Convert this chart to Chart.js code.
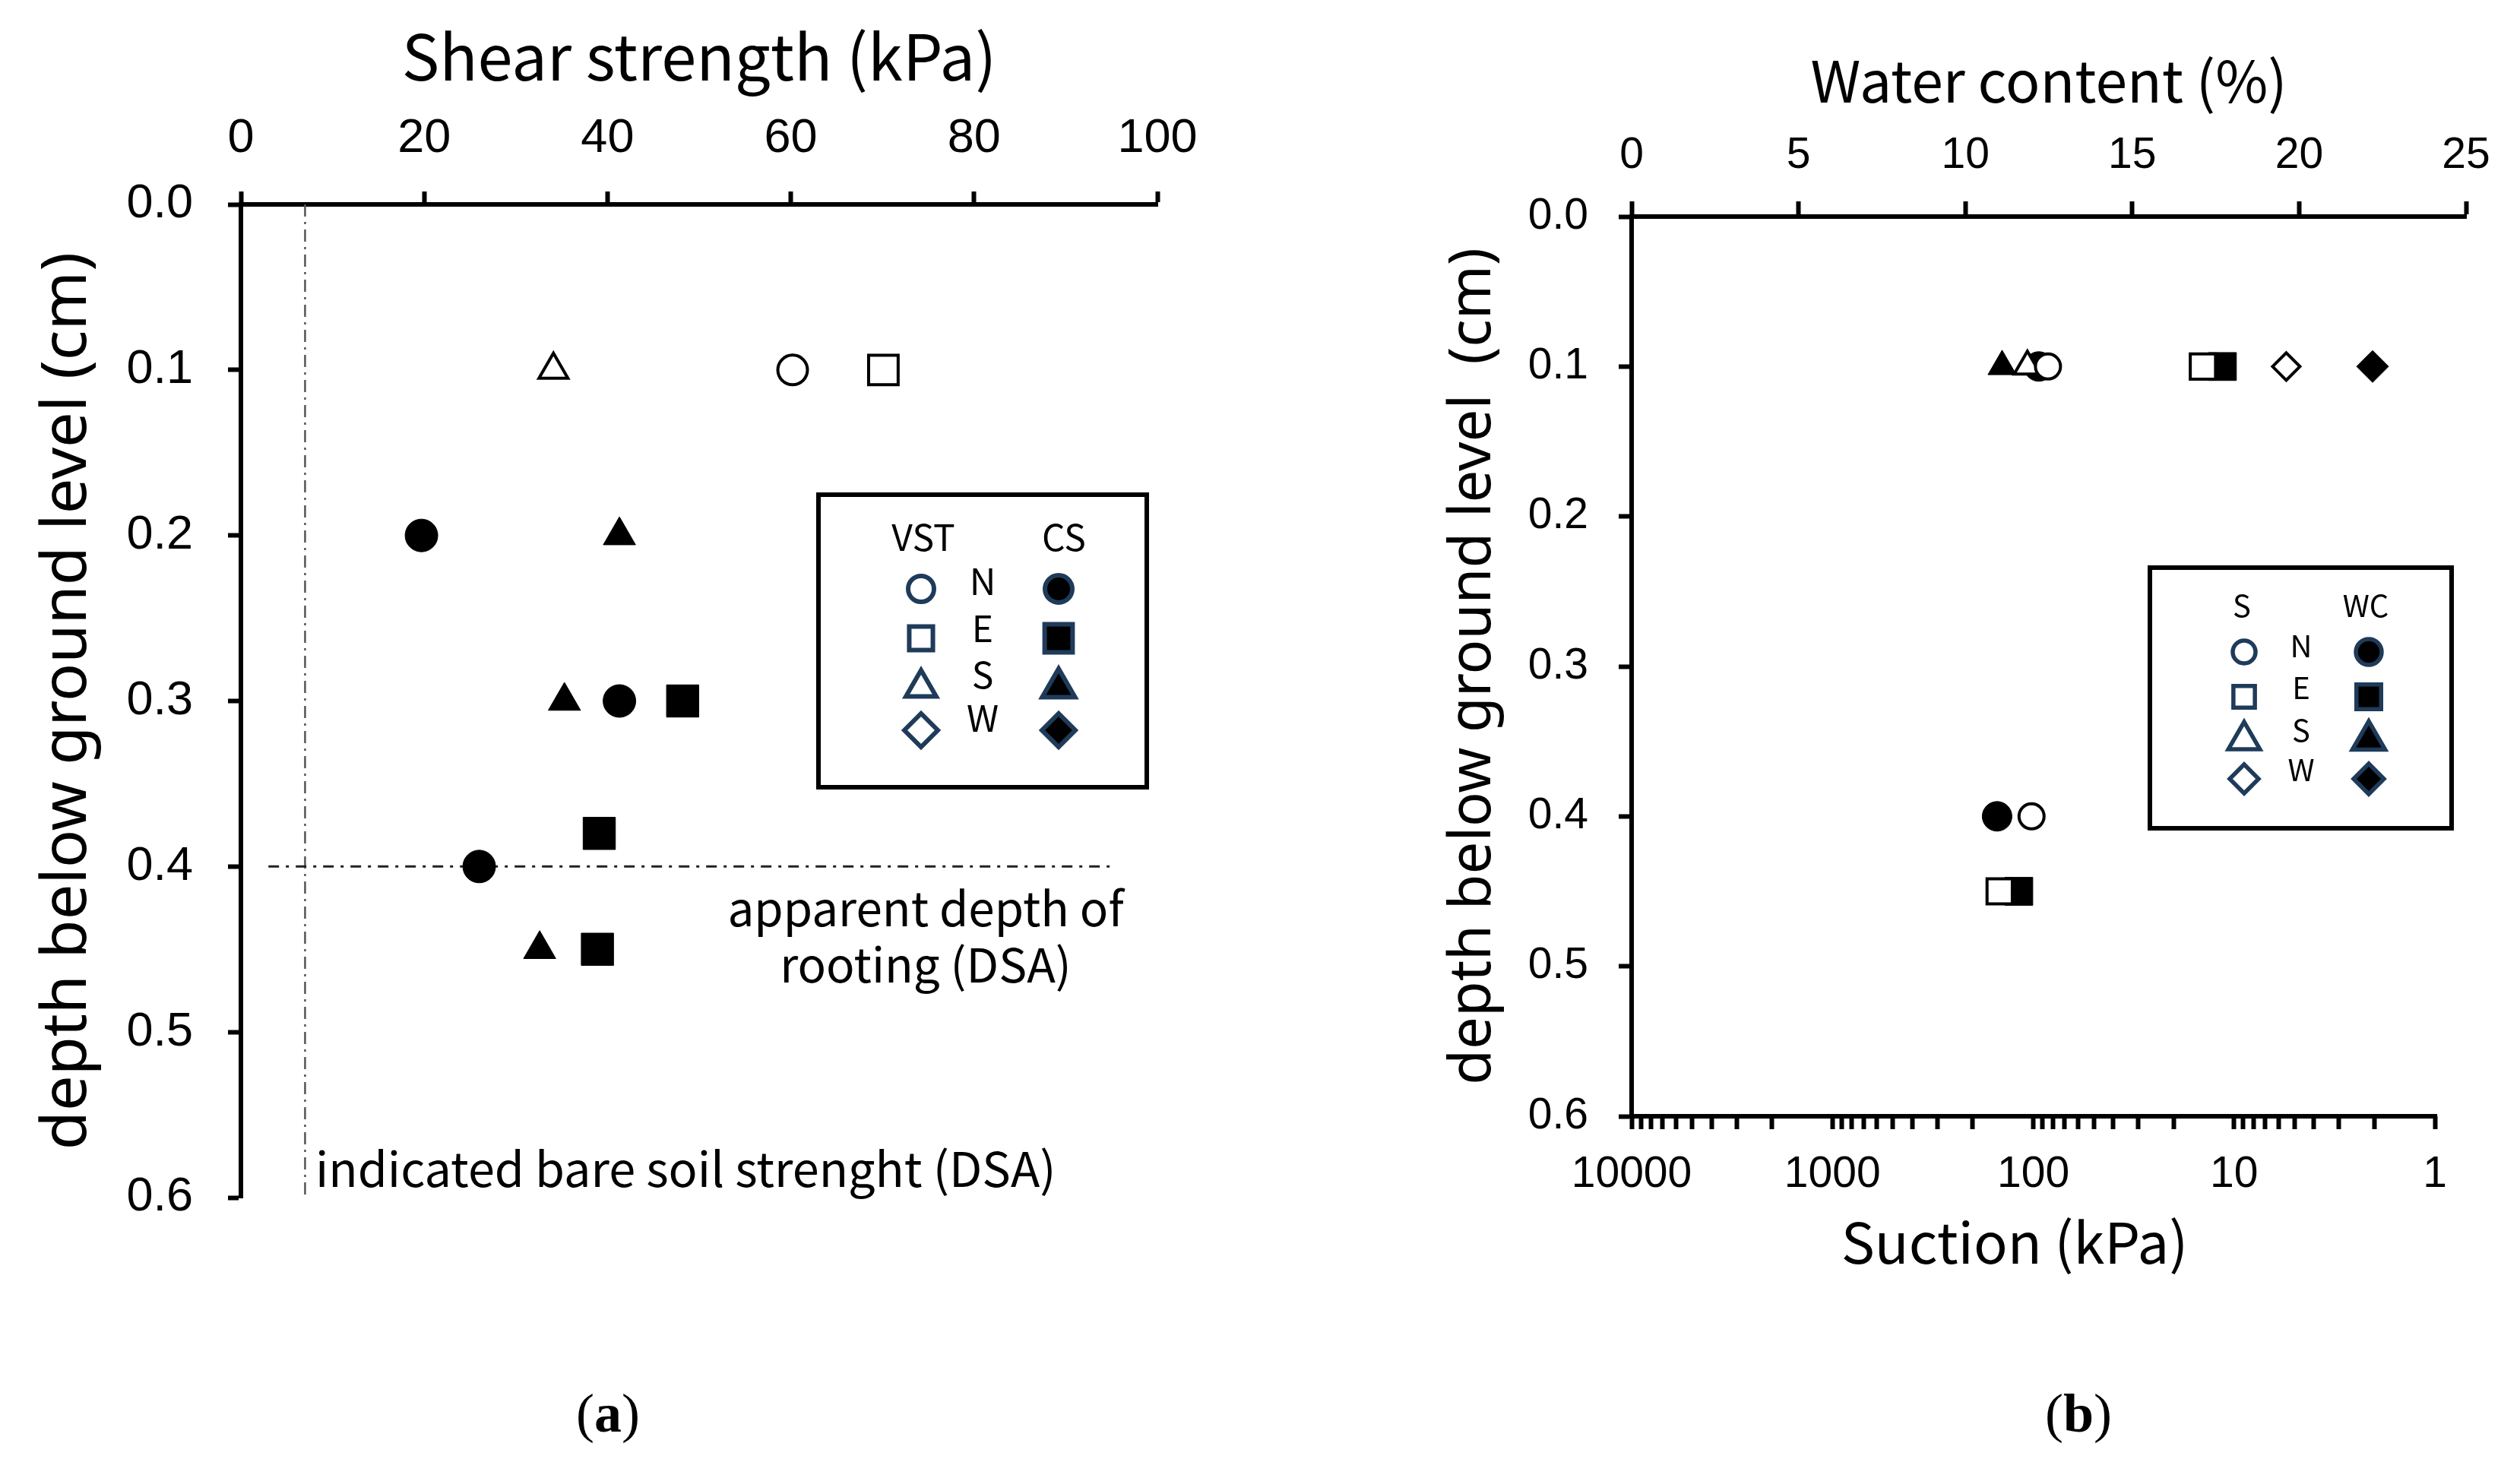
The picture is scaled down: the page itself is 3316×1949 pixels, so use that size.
<!DOCTYPE html>
<html>
<head>
<meta charset="utf-8">
<script src="https://cdn.jsdelivr.net/npm/chart.js@4.4.1/dist/chart.umd.min.js"></script>
<style>
  html, body { margin: 0; padding: 0; background: #fff; }
  #page { position: relative; width: 3316px; height: 1949px; background: #fff; }
  .panel { position: absolute; top: 0; width: 1658px; height: 1949px; }
</style>
</head>
<body>
<div id="page">
  <div class="panel" style="left:0"><canvas id="shear" width="1658" height="1949"></canvas></div>
  <div class="panel" style="left:1658px"><canvas id="water" width="1658" height="1949"></canvas></div>
</div>
<script>
// compass directions used as series names in both panels
const directions = ['N', 'E', 'S', 'W'];

// (a) shear strength [kPa, depth]
const vstN = [[60.2, 0.1]];
const vstE = [[70.1, 0.1]];
const vstS = [[34.1, 0.1]];
const vstW = [];
const csN = [[19.7, 0.2], [41.3, 0.3], [26.0, 0.4]];
const csE = [[48.2, 0.3], [39.1, 0.38], [38.9, 0.45]];
const csS = [[41.3, 0.2], [35.3, 0.3], [32.6, 0.45]];
const csW = [];
const bareSoilStrength = 7;          // kPa, vertical dash-dot line
const rootingDepth = 0.4;            // horizontal dash-dot line
const rootingLineSpan = [3, 95];     // kPa
const shearTicks = [0, 20, 40, 60, 80, 100];
const depthTicks = [0, 0.1, 0.2, 0.3, 0.4, 0.5, 0.6];

// (b) suction [kPa, depth] and water content [%, depth]
const suctionN = [[84.5, 0.1], [102, 0.4]];
const suctionE = [[14.3, 0.1], [147, 0.45]];
const suctionS = [[107, 0.1]];
const suctionW = [[5.5, 0.1]];
const wcN = [[12.2, 0.1], [10.95, 0.4]];
const wcE = [[17.7, 0.1], [11.6, 0.45]];
const wcS = [[11.1, 0.1]];
const wcW = [[22.2, 0.1]];
const waterTicks = [0, 5, 10, 15, 20, 25];
const suctionLabels = [10000, 1000, 100, 10, 1];

Chart.defaults.color = '#000';
Chart.defaults.animation = false;

const navy = '#1f3b5a';
const styles = ['circle', 'rect', 'triangle', 'rectRot'];
const titleFamily = "'Noto Sans CJK JP', 'Noto Sans', sans-serif";
const depthFamily = "'Noto Sans', 'DejaVu Sans', sans-serif";
const tickFamily = "'Liberation Sans', Arial, sans-serif";
const serifFamily = "'Liberation Serif', 'DejaVu Serif', serif";

// font size that makes a text as wide as it is in the picture
const measureCtx = document.createElement('canvas').getContext('2d');
const fitSize = (text, family, width) => {
  measureCtx.font = `100px ${family}`;
  return Math.round(100 * width / measureCtx.measureText(text).width);
};

const depthTitleA = 'depth below ground level (cm)';
const depthTitleB = 'depth below ground level  (cm)';
const shearTitleSize = fitSize('Shear strength (kPa)', titleFamily, 785);
const waterTitleSize = fitSize('Water content (%)', titleFamily, 631);
const suctionTitleSize = fitSize('Suction (kPa)', titleFamily, 454);
const depthSizeA = fitSize(depthTitleA, depthFamily, 1178);
const depthSizeB = fitSize(depthTitleB, depthFamily, 1100);
const noteSize = fitSize('apparent depth of', titleFamily, 524);
const bareSize = fitSize('indicated bare soil strenght (DSA)', titleFamily, 977);

const markers = (name, data, style, r, open, axis) => ({
  label: name,
  data: data.map(([x, y]) => ({x, y})),
  xAxisID: axis,
  showLine: false,
  pointStyle: style,
  pointRadius: r,
  pointHoverRadius: r,
  pointBackgroundColor: open ? '#fff' : '#000',
  pointBorderColor: '#000',
  pointBorderWidth: open ? 4 : 1
});

const dashLine = (pts, color, width, dash) => ({
  data: pts.map(([x, y]) => ({x, y})),
  xAxisID: 'x',
  showLine: true,
  pointRadius: 0,
  borderColor: color,
  borderWidth: width,
  borderDash: dash,
  fill: false
});

// legend box: open marker, direction letter, filled marker
function drawKey(ctx, k) {
  ctx.lineWidth = k.frame;
  ctx.strokeStyle = '#000';
  ctx.strokeRect(k.left, k.top, k.right - k.left, k.bottom - k.top);
  ctx.font = `${k.fontSize}px ${titleFamily}`;
  ctx.textAlign = 'center';
  ctx.textBaseline = 'middle';
  ctx.fillStyle = '#000';
  ctx.fillText(k.headers[0], k.headerX[0], k.headerY);
  ctx.fillText(k.headers[1], k.headerX[1], k.headerY);
  directions.forEach((d, i) => {
    ctx.fillStyle = '#000';
    ctx.fillText(d, k.colX[1], k.letterY[i]);
    ctx.strokeStyle = navy;
    ctx.lineWidth = k.markerLine;
    ctx.fillStyle = '#fff';
    Chart.helpers.drawPoint(ctx, {pointStyle: styles[i], radius: k.openR[i], borderWidth: k.markerLine}, k.colX[0], k.markerY[i]);
    ctx.fillStyle = '#000';
    Chart.helpers.drawPoint(ctx, {pointStyle: styles[i], radius: k.fillR[i], borderWidth: k.markerLine}, k.colX[2], k.markerY[i]);
  });
}

function drawCaption(ctx, letter, x, y) {
  const size = 72;
  ctx.textBaseline = 'middle';
  ctx.textAlign = 'left';
  ctx.font = `${size}px ${serifFamily}`;
  const wp = ctx.measureText('(').width;
  ctx.font = `bold ${size}px ${serifFamily}`;
  const wl = ctx.measureText(letter).width;
  let cx = x - (2 * wp + wl) / 2;
  ctx.font = `${size}px ${serifFamily}`;
  ctx.fillText('(', cx, y);
  ctx.font = `bold ${size}px ${serifFamily}`;
  ctx.fillText(letter, cx + wp, y);
  ctx.font = `${size}px ${serifFamily}`;
  ctx.fillText(')', cx + wp + wl, y);
}

const notes = (texts, key, caption, extra) => ({
  id: 'notes',
  afterDraw(chart) {
    const ctx = chart.ctx;
    ctx.save();
    if (extra) extra(chart, ctx);
    ctx.fillStyle = '#000';
    texts.forEach(t => {
      ctx.font = t.font;
      ctx.textAlign = t.align || 'center';
      ctx.textBaseline = 'middle';
      ctx.fillText(t.text, t.x, t.y);
    });
    drawKey(ctx, key);
    drawCaption(ctx, caption[0], caption[1], caption[2]);
    ctx.restore();
  }
});

const axisGrid = (len) => ({drawOnChartArea: false, drawTicks: true, tickLength: len, tickWidth: 6, tickColor: '#000'});
const axisBorder = {display: true, color: '#000', width: 6};
const depthAxis = (width, size, pad, title, titleSize, titlePad) => ({
  type: 'linear', position: 'left', reverse: true,
  min: depthTicks[0], max: depthTicks[depthTicks.length - 1],
  afterBuildTicks: s => { s.ticks = depthTicks.map(v => ({value: v})); },
  afterFit: s => { s.width = width; },
  ticks: {font: {family: tickFamily, size}, padding: pad, callback: v => v.toFixed(1)},
  grid: axisGrid(17),
  border: axisBorder,
  title: {display: true, text: title, font: {family: depthFamily, size: titleSize}, padding: {top: titlePad, bottom: 0}}
});

// ---------------- (a) ----------------
new Chart(document.getElementById('shear'), {
  type: 'scatter',
  data: {
    datasets: [
      markers('VST N', vstN, 'circle', 19.5, true, 'x'),
      markers('VST E', vstE, 'rect', 27.5, true, 'x'),
      markers('VST S', vstS, 'triangle', 22, true, 'x'),
      markers('VST W', vstW, 'rectRot', 22, true, 'x'),
      markers('CS N', csN, 'circle', 21.5, false, 'x'),
      markers('CS E', csE, 'rect', 30, false, 'x'),
      markers('CS S', csS, 'triangle', 24.5, false, 'x'),
      markers('CS W', csW, 'rectRot', 24, false, 'x'),
      dashLine([[rootingLineSpan[0], rootingDepth], [rootingLineSpan[1], rootingDepth]], '#222', 3, [14, 9, 4, 9]),
      dashLine([[bareSoilStrength, depthTicks[0]], [bareSoilStrength, depthTicks[depthTicks.length - 1]]], '#555', 2.5, [16, 7, 3, 7])
    ]
  },
  options: {
    responsive: false,
    devicePixelRatio: 1,
    events: [],
    layout: {padding: {top: 0, left: 0, right: 135, bottom: 373}},
    plugins: {legend: {display: false}, tooltip: {enabled: false}},
    scales: {
      x: {
        type: 'linear', position: 'top',
        min: shearTicks[0], max: shearTicks[shearTicks.length - 1],
        afterBuildTicks: s => { s.ticks = shearTicks.map(v => ({value: v})); },
        afterFit: s => { s.height = 269; },
        ticks: {font: {family: tickFamily, size: 63}, padding: 32, maxRotation: 0},
        grid: axisGrid(17),
        border: axisBorder,
        title: {display: true, text: 'Shear strength (kPa)', font: {family: titleFamily, size: shearTitleSize},
                padding: {top: 74 - 0.6 * shearTitleSize, bottom: 0}}
      },
      y: depthAxis(317, 63, 46, depthTitleA, depthSizeA, 89 - 0.6 * depthSizeA)
    }
  },
  plugins: [notes(
    [
      {text: 'apparent depth of', x: 1218, y: 1195, font: `${noteSize}px ${titleFamily}`},
      {text: 'rooting (DSA)', x: 1218, y: 1269, font: `${noteSize}px ${titleFamily}`},
      {text: 'indicated bare soil strenght (DSA)', x: 415, y: 1538, align: 'left', font: `${bareSize}px ${titleFamily}`}
    ],
    {
      left: 1077, right: 1509, top: 651, bottom: 1036, frame: 6, fontSize: 48,
      headers: ['VST', 'CS'], headerX: [1215, 1400], headerY: 707,
      colX: [1212, 1293, 1393],
      markerY: [775, 840, 905, 961], letterY: [765, 827, 888, 945],
      openR: [17, 22, 23, 22], fillR: [18, 26, 25, 22], markerLine: 6
    },
    ['a', 800, 1865]
  )]
});

// ---------------- (b) ----------------
const suctionTickValues = [];
for (let i = 0; i < suctionLabels.length - 1; i++) {
  const low = suctionLabels[i + 1];
  for (let k = 1; k < 10; k++) suctionTickValues.push(low * k);
}
suctionTickValues.push(suctionLabels[0]);

const suctionAxisLine = (chart, ctx) => {
  const s = chart.scales.suction;
  ctx.strokeStyle = '#000';
  ctx.lineWidth = 6;
  ctx.beginPath();
  ctx.moveTo(s.getPixelForValue(suctionLabels[0]) - 3, s.top);
  ctx.lineTo(s.getPixelForValue(suctionLabels[suctionLabels.length - 1]) + 3, s.top);
  ctx.stroke();
};

new Chart(document.getElementById('water'), {
  type: 'scatter',
  data: {
    datasets: [
      markers('S N', suctionN, 'circle', 16.5, true, 'suction'),
      markers('S E', suctionE, 'rect', 23.5, true, 'suction'),
      markers('S S', suctionS, 'triangle', 20, true, 'suction'),
      markers('S W', suctionW, 'rectRot', 18, true, 'suction'),
      markers('WC N', wcN, 'circle', 19.5, false, 'wc'),
      markers('WC E', wcE, 'rect', 26, false, 'wc'),
      markers('WC S', wcS, 'triangle', 21.5, false, 'wc'),
      markers('WC W', wcW, 'rectRot', 21, false, 'wc')
    ]
  },
  options: {
    responsive: false,
    devicePixelRatio: 1,
    events: [],
    layout: {padding: {top: 0, left: 0, right: 71, bottom: 230}},
    plugins: {legend: {display: false}, tooltip: {enabled: false}},
    scales: {
      wc: {
        type: 'linear', position: 'top', axis: 'x',
        min: waterTicks[0], max: waterTicks[waterTicks.length - 1],
        afterBuildTicks: s => { s.ticks = waterTicks.map(v => ({value: v})); },
        afterFit: s => { s.height = 285; },
        ticks: {font: {family: tickFamily, size: 57}, padding: 26, maxRotation: 0},
        grid: axisGrid(20),
        border: axisBorder,
        title: {display: true, text: 'Water content (%)', font: {family: titleFamily, size: waterTitleSize},
                padding: {top: 106 - 0.6 * waterTitleSize, bottom: 0}}
      },
      suction: {
        type: 'logarithmic', position: 'bottom', axis: 'x', reverse: true,
        min: 0.725, max: suctionLabels[0],
        afterBuildTicks: s => { s.ticks = suctionTickValues.map(v => ({value: v})); },
        afterFit: s => { s.height = 250; },
        ticks: {font: {family: tickFamily, size: 57}, padding: 26, autoSkip: false, maxRotation: 0,
                callback: v => suctionLabels.includes(v) ? String(v) : ''},
        grid: axisGrid(17),
        border: {display: false}
      },
      y: depthAxis(489, 57, 40, depthTitleB, depthSizeB, 281 - 0.6 * depthSizeB)
    }
  },
  plugins: [notes(
    [
      {text: 'Suction (kPa)', x: 993, y: 1635, font: `${suctionTitleSize}px ${titleFamily}`}
    ],
    {
      left: 1171, right: 1568, top: 747, bottom: 1090, frame: 6, fontSize: 40,
      headers: ['S', 'WC'], headerX: [1292, 1455], headerY: 797,
      colX: [1295, 1370, 1459],
      markerY: [858, 917, 974, 1025], letterY: [850, 905, 961, 1013],
      openR: [15, 20, 24, 19], fillR: [17, 23, 25, 20], markerLine: 5.5
    },
    ['b', 1077, 1865],
    suctionAxisLine
  )]
});
</script>
</body>
</html>
